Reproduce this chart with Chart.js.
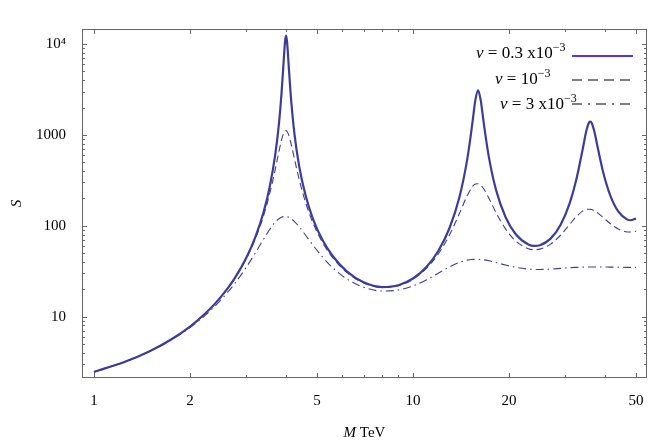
<!DOCTYPE html>
<html>
<head>
<meta charset="utf-8">
<script src="https://cdn.jsdelivr.net/npm/chart.js@4.4.1/dist/chart.umd.min.js"></script>
<style>
  html, body { margin: 0; padding: 0; background: #fff; }
  #wrap { width: 654px; height: 444px; }
</style>
</head>
<body>
<div id="wrap"><canvas id="myChart" width="654" height="444"></canvas></div>
<script>
// M (TeV) sample points
const M_VALUES = [1, 1.25, 1.5, 1.75, 2, 2.25, 2.5, 2.75, 3, 3.2,
  3.4, 3.55, 3.7, 3.8, 3.87, 3.93, 3.97, 4, 4.03, 4.08,
  4.15, 4.25, 4.4, 4.6, 4.85, 5.2, 5.6, 6.2, 7, 8,
  9, 10, 11, 12, 13, 14, 14.8, 15.3, 15.5, 15.7,
  16, 16.3, 16.5, 16.7, 17.3, 18.2, 19.5, 21, 23, 24,
  25, 27, 29, 31, 32.5, 34, 35, 35.7, 36, 36.3,
  37, 38, 39.5, 41.5, 44, 47, 48, 50];

// v = 0.3 x10^-3 (solid)
const S_V03 = [2.47, 3.19, 4.2, 5.65, 7.79, 11.1, 16.5, 25.9, 44.2, 74.1,
  141, 262, 607, 1333, 2815, 6323, 10570, 12350, 10480, 5568,
  2403, 1026, 447, 219, 121, 70.1, 46.5, 31.5, 23.9, 21.2,
  22.2, 26.3, 35.0, 52.8, 93.4, 210, 544, 1230, 1766, 2458,
  3093, 2417, 1776, 1284, 565, 250, 125, 80.8, 62.3, 60.1,
  61.1, 72.2, 102, 178, 321, 682, 1129, 1382, 1404, 1362,
  1101, 707, 384, 218, 144, 117, 115, 120];

// v = 10^-3 (dashed)
const S_V1 = [2.47, 3.19, 4.2, 5.65, 7.78, 11.06, 16.4, 25.6, 43.2, 70.9,
  129, 221, 418, 657, 874, 1041, 1104, 1114, 1089, 988,
  793, 545, 321, 183, 109, 65.8, 44.6, 30.7, 23.5, 20.95,
  21.9, 25.8, 33.8, 48.9, 78.6, 138, 216, 264, 280, 288,
  290.5, 280, 267, 252, 201, 140, 92.6, 67.9, 56.0, 54.6,
  55.4, 62.8, 78.7, 103.7, 126, 145, 151.5, 152.3, 151.7, 150.7,
  146.6, 138, 123, 106, 92.2, 85.6, 85.3, 86.9];

// v = 3 x10^-3 (dash-dot)
const S_V3 = [2.46, 3.18, 4.18, 5.57, 7.6, 10.6, 15.3, 22.7, 34.9, 49.9,
  71.1, 90.5, 110, 119.5, 124.2, 126.3, 126.8, 126.5, 125.8, 123.8,
  119.6, 111.4, 97.2, 79.2, 61.6, 45.4, 34.6, 26.1, 21.1, 19.15,
  19.65, 21.8, 25.4, 30.0, 35.2, 39.6, 41.9, 42.6, 42.7, 42.8,
  42.8, 42.6, 42.4, 42.2, 41.2, 39.5, 37.0, 34.9, 33.4, 33.1,
  33.1, 33.4, 34.0, 34.6, 34.9, 35.1, 35.2, 35.2, 35.2, 35.2,
  35.2, 35.2, 35.2, 35.1, 35.0, 34.9, 34.9, 34.9];

const X_TICKS = [1, 2, 5, 10, 20, 50];
const X_MINOR = [3, 4, 6, 7, 8, 9, 30, 40];
const Y_TICKS = [10, 100, 1000, 10000];
const Y_MINOR = [3, 4, 5, 6, 7, 8, 9, 20, 30, 40, 50, 60, 70, 80, 90,
  200, 300, 400, 500, 600, 700, 800, 900, 2000, 3000, 4000, 5000, 6000, 7000, 8000, 9000];

const LEGEND_ROWS = [
  { base: ' = 0.3 x10', sup: '\u22123' },
  { base: ' = 10', sup: '\u22123' },
  { base: ' = 3 x10', sup: '\u22123' }
];
const X_TITLE = ['M', ' TeV'];
const Y_TITLE = 'S';

const CURVE = '#3d3d99';
const FRAME = '#666666';
const SERIF = '"Liberation Serif", "DejaVu Serif", serif';

const toPoints = (ys) => M_VALUES.map((m, i) => ({ x: m, y: ys[i] }));

// frame, inward ticks, legend and axis titles
const framePlugin = {
  id: 'frame',
  afterDraw(chart) {
    const { ctx, chartArea: a, scales: { x, y } } = chart;
    ctx.save();
    ctx.strokeStyle = FRAME;
    ctx.lineWidth = 1;
    ctx.strokeRect(a.left + 0.5, a.top + 0.5, a.right - a.left - 1, a.bottom - a.top - 1);

    ctx.beginPath();
    const xt = (v, len) => {
      const px = Math.round(x.getPixelForValue(v)) + 0.5;
      ctx.moveTo(px, a.bottom); ctx.lineTo(px, a.bottom - len);
      ctx.moveTo(px, a.top); ctx.lineTo(px, a.top + len);
    };
    const yt = (v, len) => {
      const py = Math.round(y.getPixelForValue(v)) + 0.5;
      ctx.moveTo(a.left, py); ctx.lineTo(a.left + len, py);
      ctx.moveTo(a.right, py); ctx.lineTo(a.right - len, py);
    };
    X_TICKS.forEach(v => xt(v, 5));
    X_MINOR.forEach(v => xt(v, 3));
    Y_TICKS.forEach(v => yt(v, 5));
    Y_MINOR.forEach(v => yt(v, 3));
    ctx.stroke();

    // legend
    const lineX0 = 572, lineX1 = 633;
    const rows = [
      { x: 476, base: 58, ly: 56, color: '#5533ee', width: 2, dash: [] },
      { x: 495, base: 84, ly: 80, color: '#555555', width: 1.5, dash: [10, 6] },
      { x: 500, base: 109, ly: 104, color: '#555555', width: 1.5, dash: [10, 6, 2, 6] }
    ];
    ctx.fillStyle = '#000';
    ctx.textBaseline = 'alphabetic';
    ctx.textAlign = 'left';
    rows.forEach((r, i) => {
      const lab = LEGEND_ROWS[i];
      let cx = r.x;
      ctx.font = 'italic 17px ' + SERIF;
      ctx.fillText('v', cx, r.base);
      cx += ctx.measureText('v').width;
      ctx.font = '17px ' + SERIF;
      ctx.fillText(lab.base, cx, r.base);
      cx += ctx.measureText(lab.base).width;
      ctx.font = '12px ' + SERIF;
      ctx.fillText(lab.sup, cx, r.base - 7);
      ctx.beginPath();
      ctx.strokeStyle = r.color;
      ctx.lineWidth = r.width;
      ctx.setLineDash(r.dash);
      ctx.moveTo(lineX0, r.ly);
      ctx.lineTo(lineX1, r.ly);
      ctx.stroke();
    });
    ctx.setLineDash([]);

    // axis titles
    ctx.fillStyle = '#000';
    ctx.font = 'italic 15px ' + SERIF;
    const w1 = ctx.measureText(X_TITLE[0]).width;
    ctx.font = '15px ' + SERIF;
    const w2 = ctx.measureText(X_TITLE[1]).width;
    const cx = (a.left + a.right) / 2 - (w1 + w2) / 2;
    ctx.font = 'italic 15px ' + SERIF;
    ctx.fillText(X_TITLE[0], cx, 437);
    ctx.font = '15px ' + SERIF;
    ctx.fillText(X_TITLE[1], cx + w1, 437);

    ctx.translate(21, (a.top + a.bottom) / 2);
    ctx.rotate(-Math.PI / 2);
    ctx.font = 'italic 15px ' + SERIF;
    ctx.textAlign = 'center';
    ctx.fillText(Y_TITLE, 0, 0);
    ctx.restore();
  }
};

const config = {
  type: 'line',
  data: {
    datasets: [
      {
        label: 'v = 0.3 x10^-3',
        data: toPoints(S_V03),
        borderColor: CURVE,
        borderWidth: 2.2
      },
      {
        label: 'v = 10^-3',
        data: toPoints(S_V1),
        borderColor: CURVE,
        borderWidth: 1.1,
        borderDash: [7, 4]
      },
      {
        label: 'v = 3 x10^-3',
        data: toPoints(S_V3),
        borderColor: CURVE,
        borderWidth: 1.1,
        borderDash: [8, 4, 1.5, 4]
      }
    ]
  },
  options: {
    responsive: false,
    animation: false,
    layout: { padding: { top: 29, right: 7, left: 0, bottom: 0 } },
    elements: {
      point: { radius: 0 },
      line: { cubicInterpolationMode: 'monotone', fill: false }
    },
    plugins: { legend: { display: false }, tooltip: { enabled: false } },
    scales: {
      x: {
        type: 'logarithmic',
        position: 'bottom',
        min: 0.917,
        max: 54.15,
        grid: { display: false },
        border: { display: false },
        afterBuildTicks: (axis) => { axis.ticks = X_TICKS.map(v => ({ value: v })); },
        afterFit: (axis) => { axis.height = 66; },
        ticks: {
          autoSkip: false,
          maxRotation: 0,
          padding: 6,
          color: '#000',
          font: { family: SERIF, size: 15 },
          callback: (v) => String(v)
        }
      },
      y: {
        type: 'logarithmic',
        position: 'left',
        min: 2.116,
        max: 14620,
        grid: { display: false },
        border: { display: false },
        afterBuildTicks: (axis) => { axis.ticks = Y_TICKS.map(v => ({ value: v })); },
        afterFit: (axis) => { axis.width = 82; },
        ticks: {
          autoSkip: false,
          padding: 8,
          color: '#000',
          font: { family: SERIF, size: 15 },
          callback: (v) => (v === 10000 ? '10\u2074' : String(v))
        }
      }
    }
  },
  plugins: [framePlugin]
};

const myChart = new Chart(document.getElementById('myChart'), config);
</script>
</body>
</html>
